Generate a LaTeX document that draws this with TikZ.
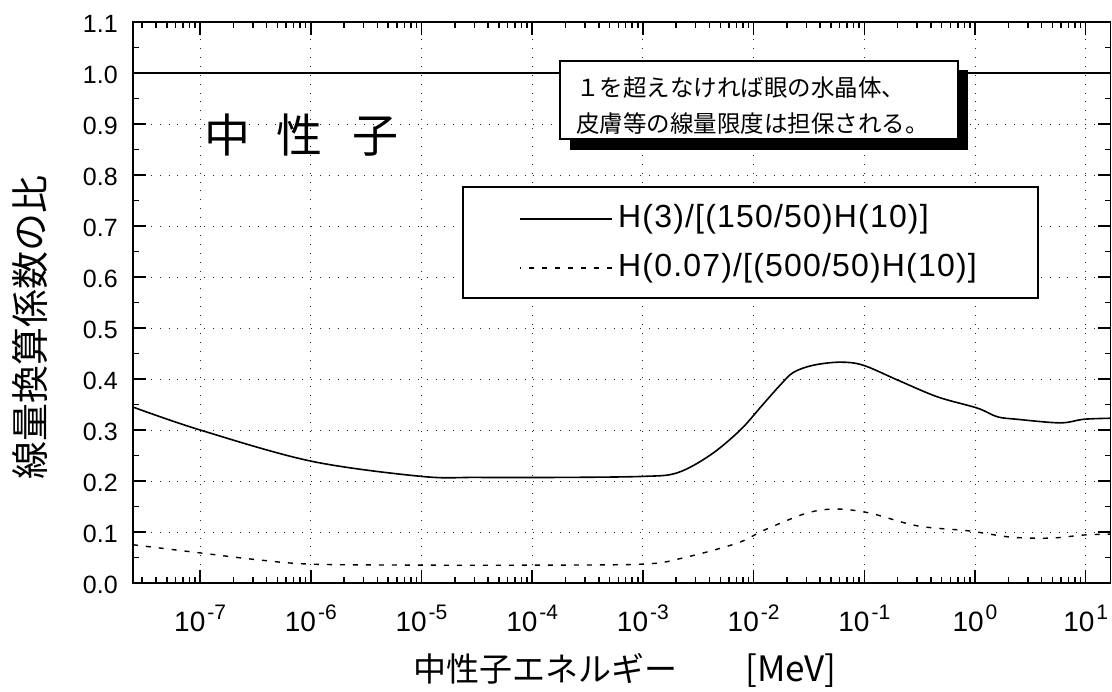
\documentclass[tikz,border=0pt]{standalone}
\usepackage{fontspec}
\setmainfont{Liberation Sans}
\newfontfamily\jpfont{Noto Sans CJK JP}
\newfontfamily\legendfont[LetterSpace=3.7]{Liberation Sans}
\definecolor{PlotInk}{RGB}{0,0,0}
\definecolor{PlotPaper}{RGB}{255,255,255}
\colorlet{ColourAxis}{PlotInk}
\colorlet{ColourGrid}{PlotInk!85}

\begin{document}
\begin{tikzpicture}[x=1pt,y=1pt,
  gridline/.style={ColourGrid,line width=0.9pt,dash pattern=on 0.9pt off 8pt},
  tickline/.style={ColourAxis,line width=1.5pt},
  yticklabel/.style={anchor=east,inner sep=0pt,font=\fontsize{25}{25}\selectfont},
  xticklabel/.style={anchor=base,inner sep=0pt,font=\fontsize{28}{28}\selectfont},
  legendtext/.style={anchor=west,inner sep=0pt,font=\legendfont\fontsize{32}{32}\selectfont}]

  \fill[PlotPaper] (0,0) rectangle (1112,692);
  \useasboundingbox (0,0) rectangle (1112,692);

  % data area: x in log10(E/MeV), y in ratio
  \begin{scope}[shift={(975,109)},x=110.7pt,y=510pt]

    \foreach \e in {-7,...,1}
      \draw[gridline] (\e,0) -- (\e,1.1);
    \foreach \v in {1,...,9}
      \draw[gridline] ({-7.607},{\v/10}) -- ({1.224},{\v/10});

    \draw[ColourAxis,line width=1.4pt] (-7.607,1) -- (1.224,1);

    % H(3) ratio
    \draw[PlotInk,line width=1.6pt] plot[smooth,tension=0.55] coordinates {
      (-7.607,0.345) (-7.0,0.300) (-6.0,0.239) (-5.0,0.209) (-4.5,0.207)
      (-3.75,0.207) (-3.0,0.209) (-2.69,0.216) (-2.39,0.251) (-2.12,0.300)
      (-1.92,0.349) (-1.76,0.388) (-1.64,0.413) (-1.46,0.427) (-1.22,0.433)
      (-1.01,0.427) (-0.70,0.398) (-0.34,0.365) (0.02,0.343) (0.20,0.326)
      (0.38,0.321) (0.77,0.314) (0.98,0.321) (1.224,0.323)};

    % H(0.07) ratio
    \draw[PlotInk,line width=1.4pt,dash pattern=on 5pt off 8pt] plot[smooth,tension=0.55] coordinates {
      (-7.607,0.075) (-7.0,0.059) (-6.5,0.046) (-6.0,0.037) (-5.0,0.035)
      (-4.0,0.035) (-3.0,0.037) (-2.64,0.049) (-2.15,0.078) (-1.90,0.104)
      (-1.52,0.137) (-1.25,0.145) (-0.95,0.137) (-0.52,0.112) (-0.05,0.102)
      (0.32,0.090) (0.68,0.088) (0.98,0.094) (1.224,0.096)};

    \draw[ColourAxis,line width=1.8pt] (-7.607,0) rectangle (1.224,1.1);

    \foreach \e in {-7,...,1} {
      \draw[tickline] (\e,0) -- ++(0,13pt);
      \draw[tickline] (\e,1.1) -- ++(0,-13pt);
    }
    \foreach \e in {-8,...,0}
      \foreach \o in {0.301,0.477,0.602,0.699,0.778,0.845,0.903,0.954} {
        \pgfmathsetmacro\tx{\e+\o}
        \ifdim\tx pt>-7.6pt
          \draw[tickline] (\tx,0) -- ++(0,6pt);
          \draw[tickline] (\tx,1.1) -- ++(0,-6pt);
        \fi
      }
    \foreach \v in {1,...,10} {
      \draw[tickline] ({-7.607},{\v/10}) -- ++(13pt,0);
      \draw[tickline] ({1.224},{\v/10}) -- ++(-13pt,0);
    }
    \foreach \v in {0,...,10} {
      \draw[tickline] ({-7.607},{\v/10+0.05}) -- ++(6pt,0);
      \draw[tickline] ({1.224},{\v/10+0.05}) -- ++(-6pt,0);
    }

    \foreach \v/\t in {0/0.0,1/0.1,2/0.2,3/0.3,4/0.4,5/0.5,6/0.6,7/0.7,8/0.8,9/0.9,10/1.0,11/1.1}
      \node[yticklabel,xshift=-15pt,yshift=-2pt] (ylab\v) at ({-7.607},{\v/10}) {\t};

    \foreach \e/\t in {-7/-7,-6/-6,-5/-5,-4/-4,-3/-3,-2/-2,-1/-1,0/0,1/1}
      \node[xticklabel,yshift=-49pt] (xlab\e) at (\e,0)
        {10\hspace{2pt}\raisebox{12pt}{\fontsize{21}{21}\selectfont\t}};
  \end{scope}

  % note with drop shadow
  \fill[PlotInk] (570,542) rectangle (968,622);
  \filldraw[fill=PlotPaper,draw=PlotInk,line width=1.4pt] (560,553) rectangle (958,631);
  \node[anchor=west,align=left,inner sep=0pt,font=\jpfont\fontsize{23.5}{36}\selectfont] (note) at (576,586)
    {１を超えなければ眼の水晶体、\\皮膚等の線量限度は担保される。};

  % legend
  \filldraw[fill=PlotPaper,draw=PlotInk,line width=1.3pt] (463,394) rectangle (1038,505);
  \node[legendtext] (lgsolid) at (618,473) {H(3)/[(150/50)H(10)]};
  \node[legendtext] (lgdash) at (618,424) {H(0.07)/[(500/50)H(10)]};
  \draw[PlotInk,line width=1.5pt] ([xshift=-6pt]lgsolid.west) -- ++(-92,0);
  \draw[PlotInk,line width=1.4pt,dash pattern=on 5pt off 8pt] ([xshift=-6pt]lgdash.west) -- ++(-92,0);

  \node[anchor=west,inner sep=0pt,font=\jpfont\fontsize{46}{46}\selectfont] (title) at (204,557)
    {中\hspace{26pt}性\hspace{30pt}子};

  \node[anchor=west,inner sep=0pt,font=\jpfont\fontsize{33}{33}\selectfont] (xtitle) at (413,22)
    {中性子エネルギー\hspace{68pt}{\fontsize{35}{35}\selectfont[MeV]}};
  \node[rotate=90,inner sep=0pt,font=\jpfont\fontsize{38}{38}\selectfont] (ytitle) at (30,364)
    {線量換算係数の比};

\end{tikzpicture}
\end{document}
